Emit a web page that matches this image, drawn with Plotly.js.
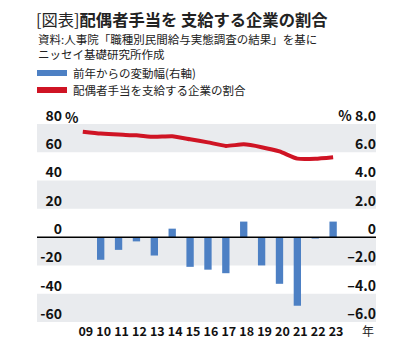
<!DOCTYPE html>
<html>
<head>
<meta charset="utf-8">
<script src="https://cdn.plot.ly/plotly-3.0.1.min.js"></script>
<style>html,body{margin:0;padding:0;background:#fff;}#chart{width:410px;height:356px;}</style>
</head>
<body>
<div id="chart"></div>
<script>
// ---- data ----
const years = ['09','10','11','12','13','14','15','16','17','18','19','20','21','22','23'];
const rate = [74.6, 73.3, 72.5, 72.0, 70.9, 71.3, 69.2, 67.0, 64.5, 65.6, 63.6, 60.6, 55.5, 55.4, 56.5];
const change = [null, -1.6, -0.9, -0.3, -1.3, 0.6, -2.1, -2.3, -2.55, 1.1, -2.0, -3.3, -4.85, -0.1, 1.1];
const leftTicks = [80, 60, 40, 20, 0, -20, -40, -60];
const leftTickText = ['80', '60', '40', '20', '0', '-20', '-40', '-60'];
const rightTicks = [8, 6, 4, 2, 0, -2, -4, -6];
const rightTickText = ['% 8.0', '6.0', '4.0', '2.0', '0', '–2.0', '–4.0', '–6.0'];
const bandRanges = [[60, 80], [20, 40], [-20, 0], [-60, -40]];
const titleText = '[図表]<b>配偶者手当を 支給する企業の割合</b>';
const sourceLines = ['資料:人事院「職種別民間給与実態調査の結果」を基に', 'ニッセイ基礎研究所作成'];
const seriesNames = ['前年からの変動幅(右軸)', '配偶者手当を支給する企業の割合'];
const yearUnit = '年';

// ---- layout geometry ----
const W = 410, H = 356;
const M = {l: 63, r: 31, t: 124, b: 34};
const PW = W - M.l - M.r, PH = H - M.t - M.b;
const px = x => (x - M.l) / PW;
const py = y => (H - M.b - y) / PH;
const FONT = '"Noto Sans CJK JP", "Noto Sans", sans-serif';
const BLUE = '#4d80c4', RED = '#cf1424', BAND = '#e9ebee';

const traces = [
  {type: 'bar', x: years, y: change, yaxis: 'y2', marker: {color: BLUE}, width: 0.41,
   name: seriesNames[0], showlegend: false, hoverinfo: 'skip'},
  {type: 'scatter', mode: 'lines', x: years, y: rate, yaxis: 'y',
   line: {color: RED, width: 4, shape: 'spline', smoothing: 0.5},
   name: seriesNames[1], showlegend: false, hoverinfo: 'skip'}
];

const shapes = bandRanges.map(r => ({
  type: 'rect', layer: 'below', xref: 'paper', yref: 'y',
  x0: px(37), x1: px(376), y0: r[0], y1: r[1], fillcolor: BAND, line: {width: 0}
}));
shapes.push({type: 'line', xref: 'paper', yref: 'y', x0: px(37), x1: px(376), y0: 0, y1: 0,
  line: {color: '#000', width: 1.5}});
// legend swatches
shapes.push({type: 'rect', xref: 'paper', yref: 'paper', x0: px(37), x1: px(67), y0: py(76), y1: py(70),
  fillcolor: BLUE, line: {width: 0}});
shapes.push({type: 'rect', xref: 'paper', yref: 'paper', x0: px(37), x1: px(67), y0: py(93), y1: py(87),
  fillcolor: RED, line: {width: 0}});

const annotations = [
  {xref: 'paper', yref: 'paper', x: px(36), y: py(39), xanchor: 'left', yanchor: 'middle', showarrow: false,
   text: sourceLines[0], font: {family: FONT, size: 11.5, color: '#222'}},
  {xref: 'paper', yref: 'paper', x: px(36), y: py(54), xanchor: 'left', yanchor: 'middle', showarrow: false,
   text: sourceLines[1], font: {family: FONT, size: 11.5, color: '#222'}},
  {xref: 'paper', yref: 'paper', x: px(71), y: py(73), xanchor: 'left', yanchor: 'middle', showarrow: false,
   text: seriesNames[0], font: {family: FONT, size: 11.5, color: '#222'}},
  {xref: 'paper', yref: 'paper', x: px(71), y: py(90), xanchor: 'left', yanchor: 'middle', showarrow: false,
   text: seriesNames[1], font: {family: FONT, size: 11.5, color: '#222'}},
  {xref: 'paper', yref: 'y', x: px(63), y: leftTicks[0], yshift: 7, xanchor: 'left', yanchor: 'middle', showarrow: false,
   text: '%', font: {family: FONT, size: 14, color: '#111', weight: 'bold'}},
  {xref: 'paper', yref: 'paper', x: px(368), y: py(330), xanchor: 'center', yanchor: 'middle', showarrow: false,
   text: yearUnit, font: {family: FONT, size: 12, color: '#222'}}
];

const layout = {
  width: W, height: H, margin: M,
  paper_bgcolor: '#fff', plot_bgcolor: 'rgba(0,0,0,0)',
  font: {family: FONT, color: '#111'},
  title: {text: titleText, x: 36 / W, xanchor: 'left', xref: 'container', y: 1 - 20 / H, yanchor: 'middle', yref: 'container',
    font: {family: FONT, size: 16.3, color: '#222'}},
  xaxis: {type: 'category', range: [(M.l - 82.8) / 17.88, (W - M.r - 82.8) / 17.88],
    showgrid: false, zeroline: false, showline: false, ticks: '', ticklabelshift: 3,
    tickfont: {family: FONT, size: 12.5, color: '#111', weight: 'bold'}, fixedrange: true},
  yaxis: {range: [-60, 80], tickvals: leftTicks, ticktext: leftTickText, showgrid: false, zeroline: false,
    showline: false, ticks: '', ticklabelshift: -8,
    tickfont: {family: FONT, size: 14, color: '#111', weight: 'bold'}},
  yaxis2: {range: [-6, 8], tickvals: rightTicks, ticktext: rightTickText, overlaying: 'y', side: 'right',
    ticklabelposition: 'inside', ticklabeloverflow: 'allow',
    showgrid: false, zeroline: false, showline: false, ticks: '', ticklabelshift: -8,
    tickfont: {family: FONT, size: 14, color: '#111', weight: 'bold'}},
  shapes: shapes, annotations: annotations, bargap: 0.5
};

Plotly.newPlot('chart', traces, layout, {staticPlot: true, displayModeBar: false});
</script>
</body>
</html>
